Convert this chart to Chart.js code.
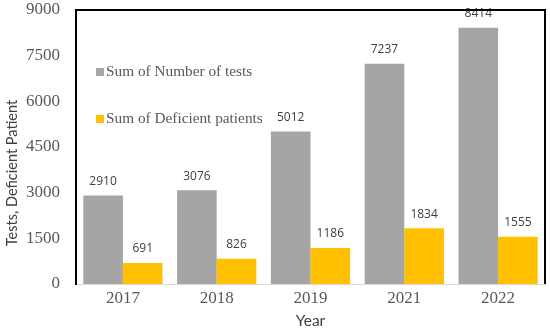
<!DOCTYPE html>
<html>
<head>
<meta charset="utf-8">
<script src="https://cdn.jsdelivr.net/npm/chart.js@4/dist/chart.umd.min.js"></script>
<style>
html,body{margin:0;padding:0;background:#fff;}
#wrap{width:550px;height:330px;position:relative;}
</style>
</head>
<body>
<div id="wrap"><canvas id="c" width="550" height="330"></canvas></div>
<script>
const years = ['2017', '2018', '2019', '2021', '2022'];
const numberOfTests = [2910, 3076, 5012, 7237, 8414];
const deficientPatients = [691, 826, 1186, 1834, 1555];
const seriesNames = ['Sum of Number of tests', 'Sum of Deficient patients'];
const yTicks = [0, 1500, 3000, 4500, 6000, 7500, 9000];
const yTitle = 'Tests, Deficient Patient';
const xTitle = 'Year';

const serif = "'Liberation Serif', 'Times New Roman', serif";
const sans = "'Open Sans', 'DejaVu Sans', sans-serif";
const titleFont = "Lato, 'Open Sans', sans-serif";

const framePlugin = {
  id: 'frame',
  afterDraw(chart) {
    const ctx = chart.ctx;
    const a = chart.chartArea;
    ctx.save();
    // data labels
    ctx.font = "12px " + sans;
    ctx.fillStyle = '#404040';
    ctx.textAlign = 'center';
    ctx.textBaseline = 'middle';
    chart.data.datasets.forEach((ds, i) => {
      const meta = chart.getDatasetMeta(i);
      meta.data.forEach((el, j) => {
        ctx.fillText(String(ds.data[j]), el.x, el.y - 14);
      });
    });
    // frame (top and right sides)
    ctx.setLineDash([]);
    ctx.strokeStyle = '#000000';
    ctx.lineWidth = 2;
    ctx.beginPath();
    ctx.moveTo(a.left, a.top);
    ctx.lineTo(a.right, a.top);
    ctx.lineTo(a.right, a.bottom);
    ctx.stroke();
    // legend
    ctx.font = "15.3px " + serif;
    ctx.textAlign = 'left';
    ctx.textBaseline = 'middle';
    chart.data.datasets.forEach((ds, i) => {
      const y = a.top + 62 + i * 47;
      ctx.fillStyle = ds.backgroundColor;
      ctx.fillRect(a.left + 20, y - 4, 8, 8);
      ctx.fillStyle = '#595959';
      ctx.fillText(ds.label, a.left + 30, y);
    });
    // y axis title
    ctx.translate(12, a.top + 163);
    ctx.rotate(-Math.PI / 2);
    ctx.font = "14.5px " + titleFont;
    ctx.fillStyle = '#404040';
    ctx.textAlign = 'center';
    ctx.textBaseline = 'middle';
    ctx.fillText(yTitle, 0, 0);
    ctx.restore();
  }
};

new Chart(document.getElementById('c'), {
  type: 'bar',
  data: {
    labels: years,
    datasets: [
      {label: seriesNames[0], data: numberOfTests, backgroundColor: '#a5a5a5', barPercentage: 1, categoryPercentage: 0.845},
      {label: seriesNames[1], data: deficientPatients, backgroundColor: '#ffc000', barPercentage: 1, categoryPercentage: 0.845}
    ]
  },
  options: {
    responsive: false,
    animation: false,
    layout: {padding: {top: 10, right: 5, left: 0, bottom: 0}},
    plugins: {legend: {display: false}, tooltip: {enabled: false}},
    scales: {
      x: {
        grid: {display: false, drawTicks: false},
        border: {color: '#d9d9d9', width: 1},
        ticks: {color: '#595959', font: {family: serif, size: 17}, padding: 4},
        title: {display: true, text: xTitle, color: '#404040', font: {family: titleFont, size: 15.5}, padding: {top: -4, bottom: 0}},
        afterFit(s) { s.height = 46; s.paddingLeft = 0; s.paddingRight = 0; }
      },
      y: {
        min: 0, max: 9000,
        afterBuildTicks(s) { s.ticks = yTicks.map(v => ({value: v})); },
        grid: {display: false, drawTicks: false},
        border: {display: true, color: '#000000', width: 2},
        ticks: {color: '#595959', font: {family: serif, size: 17}, padding: 16, callback: v => String(v)},
        title: {display: false},
        afterFit(s) { s.width = 76; s.paddingTop = 0; s.paddingBottom = 0; }
      }
    }
  },
  plugins: [framePlugin]
});
</script>
</body>
</html>
